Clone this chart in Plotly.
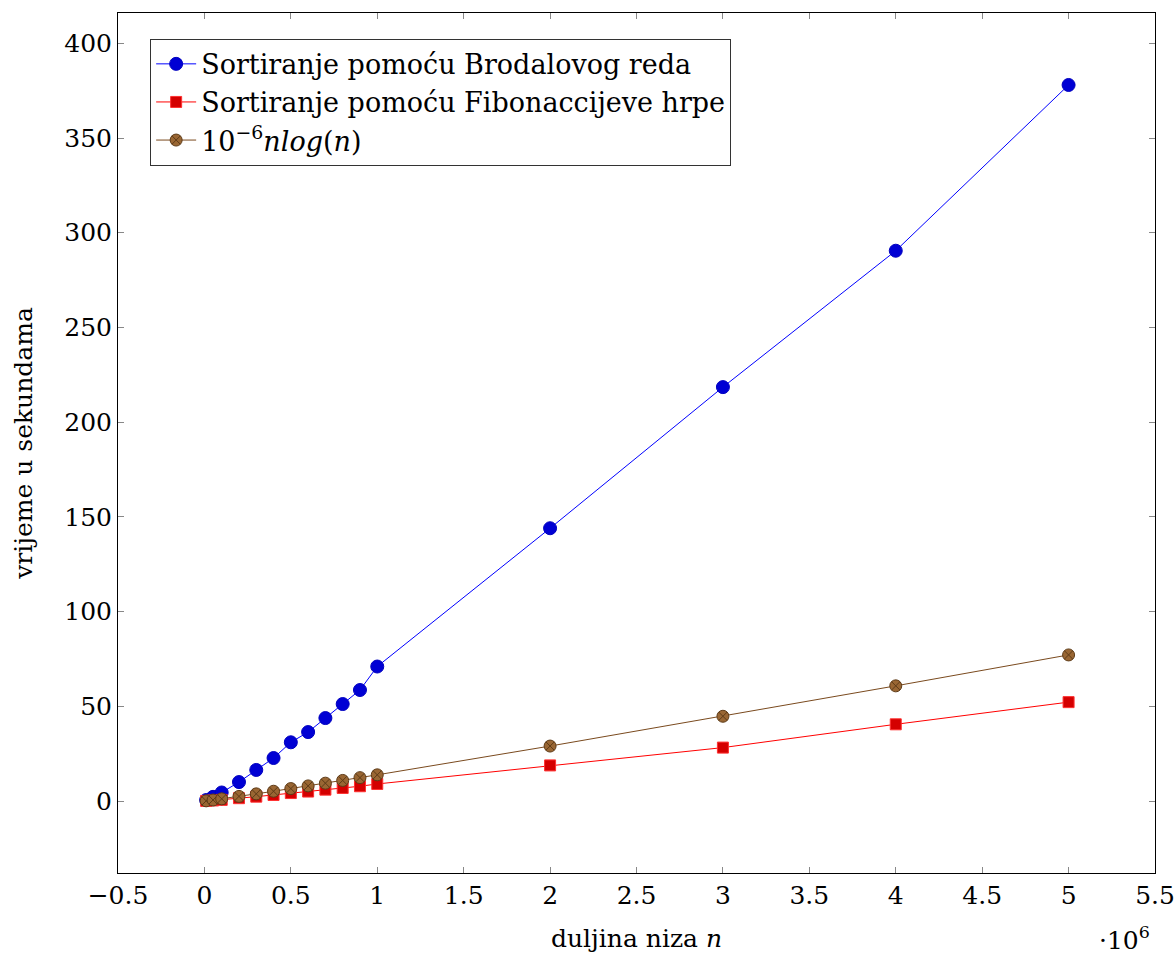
import plotly.graph_objects as go

n_values = [10000, 50000, 100000, 200000, 300000, 400000, 500000, 600000, 700000,
            800000, 900000, 1000000, 2000000, 3000000, 4000000, 5000000]
brodal_times = [0.5, 2.2, 4.5, 10.0, 16.4, 22.7, 31.0, 36.4, 43.8, 51.2, 58.6, 71.0,
                144.0, 218.5, 290.5, 378.0]
fibonacci_times = [0.05, 0.3, 0.6, 1.5, 2.3, 3.2, 4.2, 5.0, 6.0, 6.9, 7.8, 9.0,
                   18.8, 28.2, 40.5, 52.2]
nlogn_values = [0.09, 0.54, 1.15, 2.44, 3.78, 5.16, 6.56, 7.98, 9.42, 10.87, 12.34, 13.82,
                29.02, 44.74, 60.80, 77.12]

x_tick_vals = [-0.5e6, 0, 0.5e6, 1e6, 1.5e6, 2e6, 2.5e6, 3e6, 3.5e6, 4e6, 4.5e6, 5e6, 5.5e6]
x_tick_text = ["−0.5", "0", "0.5", "1", "1.5", "2", "2.5", "3", "3.5", "4", "4.5", "5", "5.5"]
y_tick_vals = [0, 50, 100, 150, 200, 250, 300, 350, 400]

series_names = ["Sortiranje pomoću Brodalovog reda",
                "Sortiranje pomoću Fibonaccijeve hrpe",
                "10<sup>−6</sup><i>nlog</i>(<i>n</i>)"]

FONT = "DejaVu Serif"
FS = 25

fig = go.Figure()
fig.add_trace(go.Scatter(
    x=n_values, y=brodal_times, name=series_names[0], mode="lines+markers",
    line=dict(color="#0000ff", width=1),
    marker=dict(symbol="circle", size=13, color="#0000d4", line=dict(color="#0000c0", width=1)),
))
fig.add_trace(go.Scatter(
    x=n_values, y=fibonacci_times, name=series_names[1], mode="lines+markers",
    line=dict(color="#ff0000", width=1),
    marker=dict(symbol="square", size=11, color="#d40000", line=dict(color="#ff3030", width=1)),
))
fig.add_trace(go.Scatter(
    x=n_values, y=nlogn_values, name=series_names[2], mode="lines+markers",
    line=dict(color="#7a4a1e", width=1),
    marker=dict(symbol="circle-x", size=12, color="#996633", line=dict(color="#5e3b17", width=1)),
))

fig.update_layout(
    width=1176, height=953, autosize=False,
    margin=dict(l=118, r=21, t=13, b=80, autoexpand=False),
    plot_bgcolor="white", paper_bgcolor="white",
    font=dict(family=FONT, size=FS, color="black"),
    showlegend=True,
    legend=dict(
        x=0.031, y=0.970, xanchor="left", yanchor="top",
        bgcolor="white", bordercolor="#333333", borderwidth=1,
        font=dict(family=FONT, size=27, color="black"),
        itemwidth=40, tracegroupgap=0,
    ),
)
fig.update_xaxes(
    range=[-0.5e6, 5.5e6], tickvals=x_tick_vals, ticktext=x_tick_text,
    automargin=False,
    showgrid=False, zeroline=False, showline=True, linecolor="black", linewidth=1,
    mirror="allticks", ticks="inside", ticklen=6, tickcolor="#888888", tickwidth=1,
    tickfont=dict(family=FONT, size=FS),
    title=dict(text="duljina niza <i>n</i>", font=dict(family=FONT, size=FS), standoff=20),
)
fig.update_yaxes(
    range=[-38, 416], tickvals=y_tick_vals,
    automargin=False,
    showgrid=False, zeroline=False, showline=True, linecolor="black", linewidth=1,
    mirror="allticks", ticks="inside", ticklen=6, tickcolor="#888888", tickwidth=1,
    tickfont=dict(family=FONT, size=FS),
    title=dict(text="vrijeme u sekundama", font=dict(family=FONT, size=FS), standoff=24),
)
fig.add_annotation(
    text="·10<sup>6</sup>", xref="paper", yref="paper", x=0.997, y=-0.0756,
    xanchor="right", yanchor="middle", showarrow=False,
    font=dict(family=FONT, size=FS, color="black"),
)

fig.write_html(
    "out.html",
    config={"displayModeBar": False},
    post_script="document.body.style.margin='0';document.documentElement.style.overflow='hidden';",
)
